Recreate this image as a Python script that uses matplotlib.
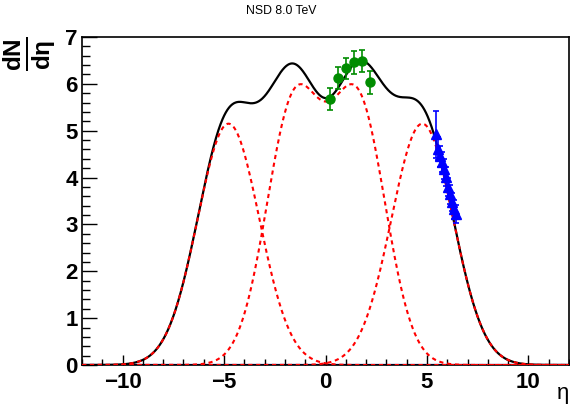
import numpy as np
import matplotlib
matplotlib.use("Agg")
import matplotlib.pyplot as plt
from matplotlib.ticker import MultipleLocator

plt.rcParams["font.family"] = ["Liberation Sans", "DejaVu Sans"]
plt.rcParams["mathtext.fontset"] = "custom"
plt.rcParams["mathtext.rm"] = "Liberation Sans"
plt.rcParams["mathtext.bf"] = "Liberation Sans:bold"
plt.rcParams["mathtext.it"] = "Liberation Sans:italic"

# ---- fitted model components ----
# outer gaussians (red dashed, left / right)
outer_amp = [5.15, 5.15]
outer_mu = [-4.78, 4.77]
outer_sigma = [1.52, 1.52]
# central component: double gaussian (one red dashed curve with a dip)
inner_amp = 5.52
inner_centre = 0.03
inner_half_sep = 1.58
inner_sigma = 1.36

# ---- data: green (central) points ----
eta_c = [0.2, 0.6, 1.0, 1.4, 1.8, 2.2]
dn_c = [5.68, 6.13, 6.33, 6.46, 6.49, 6.03]
err_c = [0.24, 0.23, 0.23, 0.24, 0.24, 0.24]

# ---- data: blue (forward) triangles ----
eta_f = [5.45, 5.55, 5.65, 5.75, 5.85, 5.95, 6.05, 6.15, 6.25, 6.35, 6.42]
dn_f = [4.92, 4.62, 4.45, 4.33, 4.18, 4.02, 3.80, 3.64, 3.48, 3.32, 3.22]
err_f = [0.50, 0.25, 0.22, 0.22, 0.22, 0.20, 0.20, 0.20, 0.20, 0.20, 0.20]


def gaus(x, a, mu, s):
    return a * np.exp(-0.5 * ((x - mu) / s) ** 2)


x = np.linspace(-12, 12, 1200)
outer = [gaus(x, a, m, s) for a, m, s in zip(outer_amp, outer_mu, outer_sigma)]
inner = (gaus(x, inner_amp, inner_centre - inner_half_sep, inner_sigma)
         + gaus(x, inner_amp, inner_centre + inner_half_sep, inner_sigma))
total = outer[0] + outer[1] + inner

fig = plt.figure(figsize=(5.7, 4.09), dpi=100)
ax = fig.add_axes([82 / 570, 1 - 365 / 409, (569 - 82) / 570, (365 - 37) / 409])

ax.axhline(0, color="#000080", lw=1.6, zorder=1)
ax.plot(x, total, color="black", lw=1.6, zorder=3)
for c in [outer[0], inner, outer[1]]:
    ax.plot(x, c, color="#ff0000", lw=1.5, ls=(0, (2.0, 1.8)), zorder=4)

ax.errorbar(eta_c, dn_c, yerr=err_c, fmt="o", color="#008c00", ms=6.5,
            elinewidth=1.2, capsize=2, capthick=1.2, zorder=5)
ax.errorbar(eta_f, dn_f, yerr=err_f, fmt="^", color="#0000ff", ms=7,
            elinewidth=1.2, capsize=2, capthick=1.2, zorder=5)

ax.set_xlim(-12, 12)
ax.set_ylim(0, 7)
ax.xaxis.set_major_locator(MultipleLocator(5))
ax.xaxis.set_minor_locator(MultipleLocator(1))
ax.yaxis.set_major_locator(MultipleLocator(1))
ax.yaxis.set_minor_locator(MultipleLocator(0.2))
ax.tick_params(which="both", direction="in", top=False, right=False, width=1)
ax.tick_params(axis="x", which="major", length=7.2, pad=5, labelsize=16)
ax.tick_params(axis="x", which="minor", length=4.3)
ax.tick_params(axis="y", which="major", length=10.8, pad=3, labelsize=16)
ax.tick_params(axis="y", which="minor", length=5.4)
for lab in ax.get_xticklabels() + ax.get_yticklabels():
    lab.set_fontweight("bold")
for sp in ax.spines.values():
    sp.set_linewidth(1.2)

fig.text(281 / 570, 1 - 11 / 409, "NSD 8.0 TeV", ha="center", va="center", fontsize=8.8)
fig.text(563 / 570, 1 - 393 / 409, "η", ha="center", va="center", fontsize=16)
fig.text(30 / 570, 1 - 54 / 409, r"$\mathbf{\frac{dN}{d\eta}}$", rotation=90,
         ha="center", va="center", fontsize=25)

fig.savefig("out.png", dpi=100)
